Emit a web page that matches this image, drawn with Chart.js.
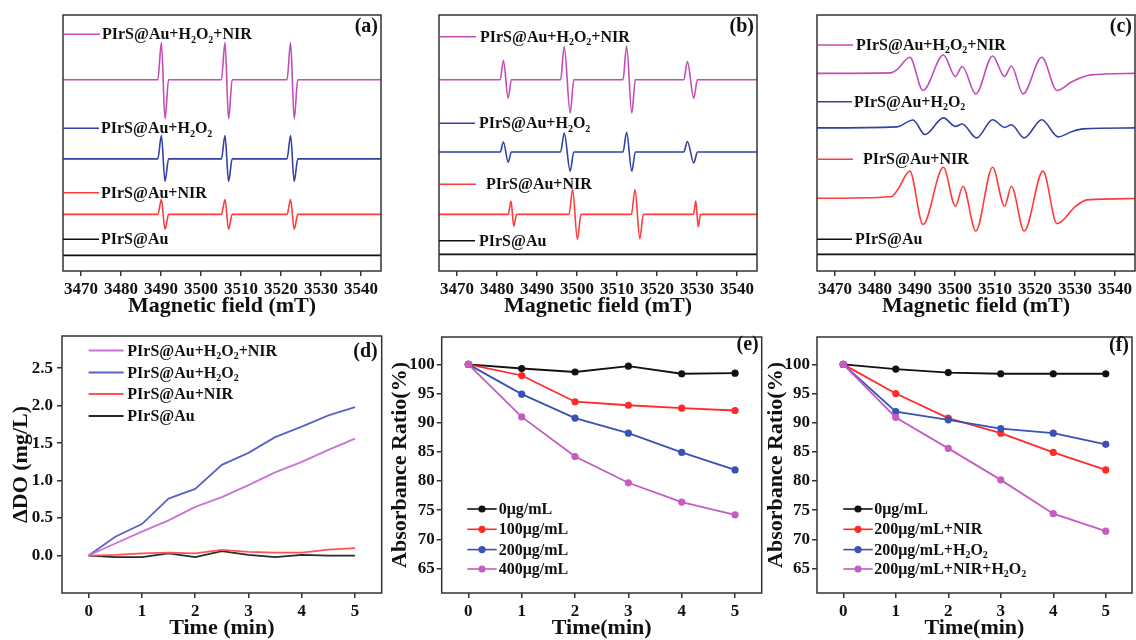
<!DOCTYPE html>
<html><head><meta charset="utf-8">
<script src="https://cdn.jsdelivr.net/npm/chart.js@4.4.1/dist/chart.umd.min.js"></script>
<style>
html,body{margin:0;padding:0;background:#fff;}
body{width:1136px;height:640px;position:relative;overflow:hidden;}
canvas{position:absolute;}
</style></head><body>
<canvas id="ca" width="400" height="320" style="left:0px;top:0px"></canvas>
<canvas id="cb" width="380" height="320" style="left:400px;top:0px"></canvas>
<canvas id="cc" width="356" height="320" style="left:780px;top:0px"></canvas>
<canvas id="cd" width="392" height="320" style="left:0px;top:320px"></canvas>
<canvas id="ce" width="385" height="320" style="left:385px;top:320px"></canvas>
<canvas id="cf" width="374" height="320" style="left:762px;top:320px"></canvas>
<script>
// ---------------- DATA ----------------
const fieldTicks = [3470, 3480, 3490, 3500, 3510, 3520, 3530, 3540];
const timeTicks = [0, 1, 2, 3, 4, 5];
const doTicks = [0, 0.5, 1.0, 1.5, 2.0, 2.5];
const absTicks = [65, 70, 75, 80, 85, 90, 95, 100];

const eprNames = ['PIrS@Au+H_2O_2+NIR', 'PIrS@Au+H_2O_2', 'PIrS@Au+NIR', 'PIrS@Au'];

// (a) EPR spectra [field mT, intensity a.u. incl. stacking offset]
const a_H2O2_NIR = [[3465.5,74.7],[3489.2,74.7],[3490.1,89.2],[3491.0,59.4],[3491.9,74.7],[3505.1,74.7],[3506.0,89.2],[3506.9,59.4],[3507.8,74.7],[3521.5,74.7],[3522.4,89.2],[3523.3,59.4],[3524.2,74.7],[3545,74.7]];
const a_H2O2 = [[3465.5,43.8],[3489.2,43.8],[3490.1,52.9],[3491.0,35.0],[3491.9,43.8],[3505.1,43.8],[3506.0,52.9],[3506.9,35.0],[3507.8,43.8],[3521.5,43.8],[3522.4,52.9],[3523.3,35.0],[3524.2,43.8],[3545,43.8]];
const a_NIR = [[3465.5,22.1],[3489.2,22.1],[3490.1,27.9],[3491.0,16.3],[3491.9,22.1],[3505.1,22.1],[3506.0,27.9],[3506.9,16.3],[3507.8,22.1],[3521.5,22.1],[3522.4,27.9],[3523.3,16.3],[3524.2,22.1],[3545,22.1]];
const a_ctrl = [[3465.5,6.1],[3545,6.1]];

// (b)
const b_H2O2_NIR = [[3465.5,74.7],[3480.8,74.7],[3481.6,82.2],[3482.8,67.5],[3483.6,74.7],[3495.9,74.7],[3496.8,87.7],[3498.3,61.7],[3499.2,74.7],[3511.5,74.7],[3512.4,87.9],[3513.7,61.7],[3514.6,74.7],[3526.7,74.7],[3527.6,81.8],[3529.2,67.5],[3530.1,74.7],[3545,74.7]];
const b_H2O2 = [[3465.5,46.5],[3480.8,46.5],[3481.6,50.4],[3482.8,42.5],[3483.6,46.5],[3495.9,46.5],[3496.8,53.9],[3498.3,39.0],[3499.2,46.5],[3511.5,46.5],[3512.4,54.2],[3513.7,39.0],[3514.6,46.5],[3526.7,46.5],[3527.6,50.6],[3529.2,42.2],[3530.1,46.5],[3545,46.5]];
const b_NIR = [[3465.5,22.1],[3482.8,22.1],[3483.5,27.3],[3484.2,17.5],[3484.9,22.1],[3498.0,22.1],[3498.9,31.8],[3500.1,12.3],[3501.0,22.1],[3513.6,22.1],[3514.5,31.8],[3515.7,12.6],[3516.6,22.1],[3529.1,22.1],[3529.7,27.3],[3530.3,17.3],[3530.9,22.1],[3545,22.1]];
const b_ctrl = [[3465.5,6.5],[3545,6.5]];

// (c)
const c_H2O2_NIR = [[3465.5,77.2],[3484.0,77.4],[3485.6,78.8],[3488.7,83.5],[3492.0,70.5],[3497.1,84.4],[3500.1,76.0],[3501.8,79.9],[3505.2,69.2],[3509.4,84.0],[3512.4,76.0],[3514.1,80.1],[3517.0,69.2],[3521.7,83.5],[3525.5,70.5],[3529.3,74.0],[3534.0,76.6],[3545,77.2]];
const c_H2O2 = [[3465.5,55.9],[3485.5,56.3],[3489.5,59.0],[3492.5,53.3],[3497.1,59.8],[3500.1,56.5],[3501.8,57.4],[3505.4,52.0],[3509.4,59.1],[3512.4,56.1],[3514.1,57.1],[3517.3,52.0],[3521.7,59.1],[3525.8,52.4],[3529.3,54.5],[3532.0,55.5],[3545,55.9]];
const c_NIR = [[3465.5,28.4],[3484.0,29.0],[3485.7,31.8],[3488.7,39.0],[3492.0,18.2],[3497.1,40.5],[3500.1,25.3],[3502.0,33.1],[3505.2,15.6],[3509.4,40.5],[3512.4,25.3],[3514.1,33.1],[3517.3,15.6],[3522.0,39.0],[3525.5,18.5],[3530.2,25.3],[3533.0,27.8],[3545,28.3]];
const c_ctrl = [[3465.5,6.5],[3545,6.5]];

// (d) dissolved oxygen increase
const dTime = [0, 0.5, 1, 1.5, 2, 2.5, 3, 3.5, 4, 4.5, 5];
const dH2O2NIR = [0, 0.16, 0.32, 0.47, 0.65, 0.78, 0.94, 1.11, 1.25, 1.41, 1.56];
const dH2O2 = [0, 0.25, 0.42, 0.76, 0.89, 1.21, 1.37, 1.58, 1.72, 1.87, 1.98];
const dNIR = [0, 0.01, 0.03, 0.04, 0.03, 0.075, 0.05, 0.04, 0.04, 0.08, 0.10];
const dCtrl = [0, -0.02, -0.02, 0.03, -0.02, 0.06, 0.01, -0.02, 0.01, 0.0, 0.0];
const dNames = ['PIrS@Au+H_2O_2+NIR', 'PIrS@Au+H_2O_2', 'PIrS@Au+NIR', 'PIrS@Au'];

// (e) absorbance ratio vs concentration
const eTime = [0, 1, 2, 3, 4, 5];
const e0 = [100, 99.3, 98.7, 99.7, 98.4, 98.5];
const e100 = [100, 98.1, 93.6, 93.0, 92.5, 92.1];
const e200 = [100, 94.9, 90.8, 88.2, 84.9, 81.9];
const e400 = [100, 91.0, 84.2, 79.7, 76.4, 74.2];
const eNames = ['0μg/mL', '100μg/mL', '200μg/mL', '400μg/mL'];

// (f) absorbance ratio vs condition
const f0 = [100, 99.2, 98.6, 98.4, 98.4, 98.4];
const fNIR = [100, 95.0, 90.8, 88.2, 84.9, 81.9];
const fH2O2 = [100, 91.9, 90.5, 89.0, 88.2, 86.3];
const fBoth = [100, 90.9, 85.6, 80.2, 74.4, 71.4];
const fNames = ['0μg/mL', '200μg/mL+NIR', '200μg/mL+H_2O_2', '200μg/mL+NIR+H_2O_2'];

// ---------------- STYLE / HELPERS ----------------
const FONT = '"Liberation Serif","Times New Roman","DejaVu Serif",serif';
const INK = '#111';
const eprCol = ['#c24db6', '#3142a3', '#ff3b3b', '#111111'];
const dCol = ['#c873d6', '#5a64c8', '#ff5252', '#2a2a2a'];
const abCol = ['#111111', '#ff2b2b', '#3852b8', '#c45cc4'];

function drawRich(ctx, text, x, y, size, color) {
  ctx.save();
  ctx.fillStyle = color; ctx.textBaseline = 'middle'; ctx.textAlign = 'left';
  let cx = x, buf = '';
  const flush = () => {
    if (buf) { ctx.font = `bold ${size}px ${FONT}`; ctx.fillText(buf, cx, y); cx += ctx.measureText(buf).width; buf = ''; }
  };
  for (let i = 0; i < text.length; i++) {
    const ch = text[i];
    if (ch === '_' && i + 1 < text.length) {
      flush();
      ctx.font = `bold ${Math.round(size * 0.62)}px ${FONT}`;
      ctx.fillText(text[i + 1], cx, y + size * 0.3);
      cx += ctx.measureText(text[i + 1]).width;
      i++;
    } else buf += ch;
  }
  flush();
  ctx.restore();
}

const annot = {
  id: 'annot',
  afterDraw(chart, args, o) {
    const {ctx, chartArea: a} = chart;
    ctx.save();
    ctx.strokeStyle = '#333'; ctx.lineWidth = 1.5;
    ctx.strokeRect(a.left, a.top, a.right - a.left, a.bottom - a.top);
    (o.items || []).forEach(it => {
      const y = a.top + it.dy;
      ctx.strokeStyle = it.color; ctx.lineWidth = it.lw || 1.6;
      ctx.beginPath(); ctx.moveTo(a.left + it.x0, y); ctx.lineTo(a.left + it.x1, y); ctx.stroke();
      if (it.marker) {
        ctx.fillStyle = it.color; ctx.beginPath();
        ctx.arc(a.left + (it.x0 + it.x1) / 2, y, 3.6, 0, Math.PI * 2); ctx.fill();
      }
      drawRich(ctx, it.text, a.left + it.tx, y + 1, it.size || 16, INK);
    });
    if (o.tag) {
      ctx.font = `bold 20px ${FONT}`; ctx.fillStyle = INK; ctx.textAlign = 'right'; ctx.textBaseline = 'middle';
      ctx.fillText(o.tag, a.right - o.tagDx, a.top + o.tagDy);
    }
    ctx.restore();
  }
};

const tickFont = {family: FONT, size: 17, weight: 'bold'};
const titleFont = {family: FONT, size: 22, weight: 'bold'};
const gridOpt = {drawOnChartArea: false, drawTicks: true, tickLength: 5, color: '#333', lineWidth: 1.5};

function xy(pairs) { return pairs.map(p => ({x: p[0], y: p[1]})); }
function zipXY(xs, ys) { return xs.map((x, i) => ({x: x, y: ys[i]})); }

function eprChart(id, series, leg, tag, padL, padR) {
  const datasets = series.map((s, i) => ({
    data: xy(s), borderColor: eprCol[i], borderWidth: i === 3 ? 1.8 : 1.6,
    pointRadius: 0, cubicInterpolationMode: 'monotone', fill: false
  }));
  new Chart(document.getElementById(id), {
    type: 'line',
    data: {datasets},
    plugins: [annot],
    options: {
      responsive: false, animation: false, events: [],
      layout: {padding: {left: padL, right: padR, top: 15, bottom: 0}},
      plugins: {legend: {display: false}, tooltip: {enabled: false},
        annot: {items: leg.map((l, i) => ({text: eprNames[i], color: eprCol[i], dy: l[0], x0: 0, x1: l[1], tx: l[2]})), tag, tagDx: 3, tagDy: 12}},
      scales: {
        x: {type: 'linear', min: 3465.5, max: 3545,
          afterBuildTicks: s => { s.ticks = fieldTicks.map(v => ({value: v})); },
          afterFit: s => { s.height = 49; },
          grid: gridOpt, border: {display: false},
          ticks: {font: tickFont, color: INK, padding: 3, maxRotation: 0, autoSkip: false, callback: v => String(v)},
          title: {display: true, text: 'Magnetic field (mT)', font: titleFont, color: INK, padding: {top: 0, bottom: 0}}},
        y: {display: false, min: 0, max: 100}
      }
    }
  });
}

eprChart('ca', [a_H2O2_NIR, a_H2O2, a_NIR, a_ctrl], [[19.3, 37, 39], [113.3, 36, 38], [177.7, 36, 38], [224.3, 36, 38]], '(a)', 63, 19);
eprChart('cb', [b_H2O2_NIR, b_H2O2, b_NIR, b_ctrl], [[21.7, 37, 41], [108.3, 36, 40], [169.3, 37, 47], [225.7, 36, 40]], '(b)', 39, 23);
eprChart('cc', [c_H2O2_NIR, c_H2O2, c_NIR, c_ctrl], [[30, 36, 39], [86.7, 35, 37], [144.3, 36, 46], [224.3, 35, 38]], '(c)', 37, 1);

function timeChart(id, cfg) {
  new Chart(document.getElementById(id), {
    type: 'line',
    data: {datasets: cfg.datasets},
    plugins: [annot],
    options: {
      responsive: false, animation: false, events: [],
      layout: {padding: {left: 0, right: cfg.padR, top: cfg.padT, bottom: 0}},
      plugins: {legend: {display: false}, tooltip: {enabled: false}, annot: cfg.annot},
      scales: {
        x: {type: 'linear', min: -0.5, max: 5.5,
          afterBuildTicks: s => { s.ticks = timeTicks.map(v => ({value: v})); },
          afterFit: s => { s.height = 47; },
          grid: gridOpt, border: {display: false},
          ticks: {font: tickFont, color: INK, padding: 3, maxRotation: 0, autoSkip: false, callback: v => String(v)},
          title: {display: true, text: cfg.xTitle, font: titleFont, color: INK, padding: {top: 0, bottom: -2}}},
        y: {type: 'linear', min: cfg.yMin, max: cfg.yMax,
          afterBuildTicks: s => { s.ticks = cfg.yTicks.map(v => ({value: v})); },
          afterFit: s => { s.width = cfg.yW; },
          grid: gridOpt, border: {display: false},
          ticks: {font: tickFont, color: INK, padding: cfg.yPad, autoSkip: false, callback: cfg.yFmt},
          title: {display: true, text: cfg.yTitle, font: titleFont, color: INK, padding: {top: cfg.yTitlePad, bottom: 0}}}
      }
    }
  });
}

const dSeries = [dH2O2NIR, dH2O2, dNIR, dCtrl];
timeChart('cd', {
  datasets: dSeries.map((s, i) => ({data: zipXY(dTime, s), borderColor: dCol[i], borderWidth: 1.8, pointRadius: 0, tension: 0, fill: false})),
  padR: 10.3, padT: 16, yMin: -0.5, yMax: 2.93, yTicks: doTicks, yW: 62, yPad: 4, yFmt: v => v.toFixed(1),
  yTitle: 'ΔDO (mg/L)', yTitlePad: 8.5, xTitle: 'Time (min)',
  annot: {items: [14.5, 36.5, 58, 80].map((dy, i) => ({text: dNames[i], color: dCol[i], dy, x0: 26.6, x1: 61.6, tx: 65.3, lw: 1.8})), tag: '(d)', tagDx: 4, tagDy: 16}
});

function absDatasets(series) {
  return series.map((s, i) => ({data: zipXY(eTime, s), borderColor: abCol[i], backgroundColor: abCol[i], borderWidth: 1.8,
    pointRadius: 3.6, pointBorderWidth: 0, pointBackgroundColor: abCol[i], tension: 0, fill: false, order: 3 - i}));
}
const legDy = [172, 192.3, 212.6, 232];

timeChart('ce', {
  datasets: absDatasets([e0, e100, e200, e400]),
  padR: 8.3, padT: 17, yMin: 60.8, yMax: 104.7, yTicks: absTicks, yW: 56.7, yPad: 2, yFmt: v => String(v),
  yTitle: 'Absorbance Ratio(%)', yTitlePad: 2.5, xTitle: 'Time(min)',
  annot: {items: legDy.map((dy, i) => ({text: eNames[i], color: abCol[i], dy, x0: 25.6, x1: 55, tx: 57, marker: true, lw: 1.6})), tag: '(e)', tagDx: 3, tagDy: 8}
});

timeChart('cf', {
  datasets: absDatasets([f0, fNIR, fH2O2, fBoth]),
  padR: 1, padT: 17, yMin: 60.8, yMax: 104.7, yTicks: absTicks, yW: 55, yPad: 2, yFmt: v => String(v),
  yTitle: 'Absorbance Ratio(%)', yTitlePad: 0.8, xTitle: 'Time(min)',
  annot: {items: legDy.map((dy, i) => ({text: fNames[i], color: abCol[i], dy, x0: 26.3, x1: 55.7, tx: 57.3, marker: true, lw: 1.6})), tag: '(f)', tagDx: 3, tagDy: 9}
});
</script>
</body></html>
